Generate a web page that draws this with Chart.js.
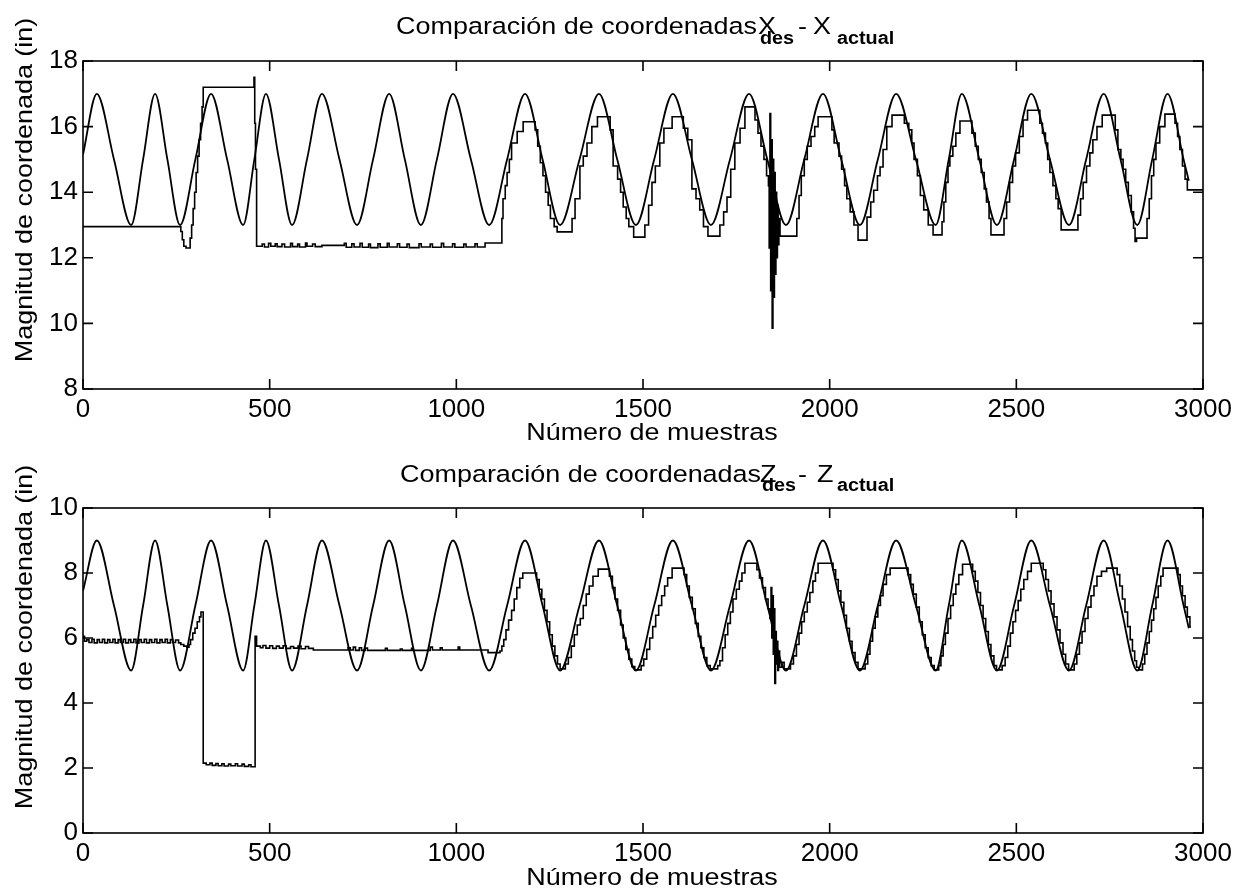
<!DOCTYPE html>
<html>
<head>
<meta charset="utf-8">
<script src="https://cdn.jsdelivr.net/npm/chart.js@4.4.0/dist/chart.umd.min.js"></script>
<style>
  body { margin: 0; background: #fff; }
  .panel { position: absolute; left: 0; width: 1238px; height: 444px; }
</style>
</head>
<body>
<div class="panel" style="top:0"><canvas id="chartX" width="1238" height="444"></canvas></div>
<div class="panel" style="top:444px"><canvas id="chartZ" width="1238" height="444"></canvas></div>
<script>
// Ejes
const ticksMuestras = [0, 500, 1000, 1500, 2000, 2500, 3000];
const ticksX = [8, 10, 12, 14, 16, 18];
const ticksZ = [0, 2, 4, 6, 8, 10];

// Trayectoria deseada: muestras de picos, cruces y valles
const muestrasDes = [0, 37, 83, 129, 161, 193, 226, 260, 301, 343, 386, 429, 459, 490, 525, 560, 600, 640, 687, 734,
  777, 820, 862, 905, 948, 991, 1039, 1088, 1136, 1184, 1231, 1278, 1330, 1382, 1431, 1481, 1530, 1580, 1631, 1682,
  1733, 1784, 1833, 1883, 1932, 1982, 2031, 2081, 2129, 2178, 2231, 2284, 2319, 2354, 2401, 2448, 2494, 2540, 2590,
  2641, 2687, 2734, 2779, 2824, 2864, 2905, 2948, 2962];
const xDes = [15.15,
  17, 15, 13, 15, 17, 15, 13, 15, 17, 15, 13, 15, 17, 15, 13, 15,
  17, 15, 13, 15, 17, 15, 13, 15, 17, 15, 13, 15, 17, 15, 13, 15,
  17, 15, 13, 15, 17, 15, 13, 15, 17, 15, 13, 15, 17, 15, 13, 15,
  17, 15, 13, 15, 17, 15, 13, 15, 17, 15, 13, 15, 17, 15, 13, 15,
  17, 15, 14.35];
const zDes = [7.45,
  9, 7, 5, 7, 9, 7, 5, 7, 9, 7, 5, 7, 9, 7, 5, 7,
  9, 7, 5, 7, 9, 7, 5, 7, 9, 7, 5, 7, 9, 7, 5, 7,
  9, 7, 5, 7, 9, 7, 5, 7, 9, 7, 5, 7, 9, 7, 5, 7,
  9, 7, 5, 7, 9, 7, 5, 7, 9, 7, 5, 7, 9, 7, 5, 7,
  9, 7, 6.3];

// Posición real medida [muestra, valor] (escalonada)
const xActual = [
  [0, 12.95], [262, 12.8], [266, 12.55], [270, 12.35], [276, 12.3], [287, 12.6], [291, 13.0], [295, 13.5], [299, 14.0],
  [303, 14.6], [307, 15.1], [311, 15.6], [315, 16.1], [319, 16.6], [322, 17.2], [458, 17.5], [460, 16.1], [462, 14.7],
  [465, 12.35], [480, 12.42], [486, 12.33], [497, 12.44], [503, 12.35], [515, 12.43], [520, 12.34], [533, 12.42],
  [540, 12.33], [556, 12.44], [561, 12.34], [575, 12.42], [580, 12.33], [596, 12.45], [600, 12.35], [615, 12.42],
  [622, 12.34], [640, 12.38], [700, 12.44], [705, 12.32], [720, 12.43], [726, 12.33], [742, 12.44], [748, 12.32],
  [765, 12.42], [770, 12.31], [790, 12.43], [796, 12.32], [815, 12.44], [820, 12.33], [842, 12.43], [848, 12.32],
  [868, 12.42], [874, 12.31], [900, 12.43], [906, 12.33], [930, 12.42], [936, 12.32], [960, 12.44], [966, 12.33],
  [990, 12.43], [996, 12.32], [1020, 12.42], [1026, 12.33], [1050, 12.43], [1056, 12.33], [1077, 12.45],
  [1122, 13.2], [1125, 13.8], [1131, 14.2], [1136, 14.6], [1142, 15.0], [1148, 15.5], [1163, 15.85], [1179, 16.15],
  [1211, 15.9], [1218, 15.4], [1225, 14.9], [1232, 14.5], [1239, 14.0], [1246, 13.6], [1252, 13.2], [1262, 12.95], [1270, 12.79],
  [1310, 13.2], [1318, 13.8], [1331, 14.8], [1340, 15.1], [1350, 15.5], [1363, 16.0], [1378, 16.3],
  [1412, 15.9], [1420, 14.8], [1432, 14.4], [1440, 14.0], [1447, 13.55], [1455, 13.2], [1462, 12.95], [1475, 12.63],
  [1505, 13.0], [1515, 13.6], [1524, 14.3], [1533, 14.8], [1545, 15.5], [1556, 15.95], [1578, 16.3],
  [1608, 15.95], [1620, 15.6], [1631, 14.1], [1642, 13.8], [1652, 13.46], [1662, 12.95], [1674, 12.66],
  [1706, 13.0], [1716, 13.4], [1725, 13.85], [1735, 14.7], [1746, 15.5], [1760, 15.95], [1773, 16.6],
  [1800, 16.2], [1808, 15.8], [1816, 15.4], [1824, 15.0], [1831, 14.5], [1836, 14.2], [1838, 12.3], [1840, 16.4],
  [1842, 11.0], [1844, 15.6], [1846, 9.85], [1848, 15.0], [1850, 10.8], [1852, 14.6], [1854, 11.5], [1856, 14.0],
  [1858, 12.0], [1860, 13.6], [1862, 12.4], [1864, 13.2], [1867, 12.66],
  [1912, 13.2], [1918, 13.9], [1924, 14.5], [1932, 15.0], [1940, 15.4], [1950, 15.7], [1960, 16.0], [1969, 16.3],
  [2006, 15.9], [2012, 15.5], [2025, 15.1], [2032, 14.7], [2040, 14.2], [2046, 13.8], [2055, 13.4], [2065, 13.0], [2076, 12.54],
  [2100, 13.24], [2110, 13.7], [2118, 14.06], [2128, 14.5], [2135, 14.77], [2143, 15.3], [2153, 16.0], [2167, 16.35],
  [2200, 16.1], [2212, 15.9], [2220, 15.5], [2226, 15.0], [2235, 14.5], [2243, 13.9], [2252, 13.46], [2264, 13.0], [2277, 12.7],
  [2301, 13.1], [2306, 13.7], [2311, 14.3], [2317, 14.8], [2322, 15.1], [2330, 15.4], [2338, 15.8], [2349, 16.17],
  [2381, 15.8], [2390, 15.4], [2398, 15.0], [2406, 14.6], [2414, 14.1], [2420, 13.7], [2427, 13.2], [2432, 12.7],
  [2467, 13.2], [2474, 13.7], [2482, 14.3], [2490, 14.8], [2498, 15.2], [2508, 15.7], [2518, 16.2], [2530, 16.5],
  [2563, 16.1], [2570, 15.8], [2578, 15.5], [2584, 15.0], [2590, 14.6], [2598, 14.2], [2606, 13.8], [2612, 13.5], [2620, 12.85],
  [2665, 13.3], [2672, 13.8], [2679, 14.3], [2688, 14.8], [2697, 15.2], [2705, 15.6], [2716, 16.0], [2730, 16.35],
  [2765, 15.9], [2772, 15.3], [2780, 15.0], [2786, 14.7], [2793, 14.3], [2800, 13.9], [2808, 13.4], [2814, 12.9],
  [2818, 12.5], [2822, 12.6],
  [2850, 13.2], [2856, 13.8], [2862, 14.5], [2868, 15.0], [2874, 15.5], [2884, 16.0], [2898, 16.38],
  [2925, 16.1], [2932, 15.7], [2938, 15.3], [2945, 14.8], [2952, 14.4], [2958, 14.07], [3000, 14.07]
];

const zActual = [
  [0, 6.05], [4, 5.9], [10, 5.95], [16, 5.86], [24, 5.96], [30, 5.85], [38, 5.95], [44, 5.86], [52, 5.96], [58, 5.85],
  [66, 5.95], [72, 5.86], [80, 5.96], [86, 5.85], [94, 5.95], [100, 5.86], [108, 5.96], [114, 5.85], [122, 5.95],
  [128, 5.86], [136, 5.96], [142, 5.85], [150, 5.95], [156, 5.86], [164, 5.96], [170, 5.85], [178, 5.95], [184, 5.86],
  [192, 5.96], [198, 5.85], [206, 5.95], [212, 5.86], [220, 5.96], [226, 5.85], [234, 5.95], [240, 5.86], [248, 5.94],
  [256, 5.85], [262, 5.8], [270, 5.75], [278, 5.72],
  [284, 5.8], [288, 5.95], [294, 6.15], [300, 6.3], [306, 6.5], [312, 6.65], [316, 6.8], [322, 2.15],
  [330, 2.1], [340, 2.15], [346, 2.08], [356, 2.14], [362, 2.07], [372, 2.13], [378, 2.06], [390, 2.12], [396, 2.07],
  [408, 2.13], [414, 2.06], [426, 2.12], [432, 2.05], [444, 2.1], [450, 2.04], [461, 6.05], [465, 5.75],
  [475, 5.7], [482, 5.77], [490, 5.69], [500, 5.76], [508, 5.68], [518, 5.75], [526, 5.69], [536, 5.76], [544, 5.68],
  [556, 5.74], [564, 5.69], [576, 5.75], [584, 5.67], [596, 5.74], [604, 5.68], [617, 5.63],
  [710, 5.7], [716, 5.63], [724, 5.72], [730, 5.62], [740, 5.7], [746, 5.62], [756, 5.69], [762, 5.62], [810, 5.68],
  [815, 5.62], [850, 5.66], [855, 5.62], [880, 5.68], [884, 5.62], [930, 5.72], [936, 5.63], [957, 5.7], [962, 5.63],
  [1005, 5.72], [1009, 5.63], [1085, 5.55],
  [1117, 5.6], [1122, 5.75], [1127, 5.95], [1133, 6.25], [1140, 6.55], [1148, 6.85], [1155, 7.2], [1162, 7.55], [1170, 7.84], [1178, 8.0],
  [1215, 7.8], [1222, 7.5], [1229, 7.2], [1236, 6.85], [1243, 6.5], [1250, 6.1], [1257, 5.75], [1264, 5.45], [1271, 5.2], [1278, 5.05],
  [1292, 5.2], [1300, 5.4], [1308, 5.75], [1316, 6.1], [1324, 6.4], [1332, 6.6], [1340, 7.0], [1348, 7.35], [1356, 7.6], [1366, 7.9], [1380, 8.12],
  [1410, 7.9], [1418, 7.55], [1425, 7.2], [1432, 6.85], [1440, 6.4], [1447, 6.0], [1454, 5.65], [1462, 5.35], [1470, 5.12], [1478, 5.02],
  [1495, 5.15], [1502, 5.35], [1510, 5.65], [1518, 6.0], [1526, 6.35], [1534, 6.7], [1542, 7.0], [1550, 7.3], [1558, 7.6], [1566, 7.85], [1578, 8.15],
  [1610, 7.95], [1617, 7.6], [1624, 7.25], [1632, 6.9], [1640, 6.45], [1648, 6.05], [1655, 5.7], [1663, 5.4], [1671, 5.15], [1680, 5.05],
  [1700, 5.15], [1706, 5.3], [1713, 5.7], [1720, 6.1], [1727, 6.45], [1734, 6.8], [1741, 7.2], [1750, 7.5], [1758, 7.75], [1765, 8.0], [1773, 8.3],
  [1805, 8.1], [1812, 7.85], [1820, 7.55], [1828, 7.2], [1835, 6.9], [1840, 6.6], [1843, 7.55], [1845, 6.0], [1847, 7.3],
  [1849, 5.5], [1851, 6.9], [1853, 4.6], [1855, 6.2], [1857, 5.2], [1859, 5.9], [1861, 5.0], [1863, 5.6], [1866, 5.1],
  [1872, 5.25], [1878, 5.05],
  [1895, 5.2], [1903, 5.45], [1911, 5.8], [1918, 6.15], [1925, 6.5], [1932, 6.8], [1940, 7.1], [1947, 7.4], [1955, 7.75], [1962, 8.0], [1969, 8.3],
  [2009, 8.1], [2016, 7.8], [2023, 7.45], [2030, 7.1], [2038, 6.7], [2045, 6.3], [2053, 5.9], [2060, 5.55], [2068, 5.25], [2076, 5.05],
  [2095, 5.2], [2102, 5.5], [2108, 5.9], [2115, 6.3], [2122, 6.65], [2129, 7.0], [2136, 7.3], [2143, 7.65], [2152, 7.95], [2162, 8.15],
  [2210, 7.95], [2217, 7.65], [2224, 7.35], [2232, 6.95], [2240, 6.5], [2248, 6.1], [2256, 5.7], [2264, 5.4], [2272, 5.15], [2280, 5.02],
  [2292, 5.15], [2298, 5.45], [2304, 5.8], [2310, 6.15], [2317, 6.6], [2324, 7.0], [2331, 7.35], [2338, 7.65], [2346, 7.95], [2356, 8.27],
  [2383, 8.05], [2390, 7.75], [2397, 7.4], [2404, 7.0], [2411, 6.6], [2418, 6.2], [2425, 5.8], [2432, 5.45], [2440, 5.15], [2447, 5.02],
  [2462, 5.15], [2470, 5.4], [2477, 5.75], [2484, 6.15], [2491, 6.5], [2498, 6.85], [2505, 7.15], [2512, 7.5], [2520, 7.8], [2530, 8.05], [2540, 8.3],
  [2572, 8.1], [2579, 7.8], [2586, 7.45], [2593, 7.05], [2601, 6.65], [2609, 6.25], [2617, 5.85], [2625, 5.5], [2632, 5.2], [2640, 5.02],
  [2655, 5.2], [2662, 5.5], [2669, 5.85], [2676, 6.2], [2684, 6.6], [2692, 6.95], [2700, 7.3], [2708, 7.6], [2716, 7.9], [2728, 8.05], [2742, 8.15],
  [2770, 7.95], [2777, 7.6], [2784, 7.2], [2791, 6.8], [2798, 6.35], [2805, 5.95], [2811, 5.6], [2817, 5.3], [2822, 5.1], [2828, 5.02],
  [2838, 5.2], [2844, 5.5], [2850, 5.85], [2856, 6.2], [2862, 6.55], [2868, 6.9], [2874, 7.25], [2880, 7.6], [2887, 7.9], [2893, 8.15],
  [2933, 7.95], [2939, 7.6], [2945, 7.3], [2952, 6.95], [2958, 6.65], [2965, 6.34], [2968, 6.34]
];

const FONT = '"Liberation Sans", Arial, Helvetica, sans-serif';

// Texto con el ancho algo estirado como en la figura escaneada
function texto(ctx, str, x, y, size, opts = {}) {
  ctx.save();
  ctx.translate(x, y);
  if (opts.rot) ctx.rotate(opts.rot);
  ctx.scale(1.1, 1);
  ctx.font = (opts.bold ? "bold " : "") + size + "px " + FONT;
  ctx.textAlign = opts.align || "left";
  ctx.textBaseline = "alphabetic";
  ctx.fillStyle = "#000";
  ctx.fillText(str, 0, 0);
  ctx.restore();
}

// Marco estilo MATLAB: caja, marcas hacia adentro y textos
const marcoMatlab = {
  id: "marcoMatlab",
  afterDraw(chart, args, o) {
    const { ctx, chartArea: a } = chart;
    const sx = chart.scales.x;
    const sy = chart.scales.y;
    ctx.save();
    ctx.strokeStyle = "#000";
    ctx.lineWidth = 1.6;
    ctx.strokeRect(a.left, a.top, a.right - a.left, a.bottom - a.top);
    ctx.beginPath();
    sx.ticks.forEach((t) => {
      const px = sx.getPixelForValue(t.value);
      ctx.moveTo(px, a.bottom); ctx.lineTo(px, a.bottom - 10);
      ctx.moveTo(px, a.top); ctx.lineTo(px, a.top + 10);
    });
    sy.ticks.forEach((t) => {
      const py = sy.getPixelForValue(t.value);
      ctx.moveTo(a.left, py); ctx.lineTo(a.left + 10, py);
      ctx.moveTo(a.right, py); ctx.lineTo(a.right - 10, py);
    });
    ctx.stroke();
    ctx.restore();

    texto(ctx, "Comparación de coordenadas", o.tituloX, o.tituloY, 24.5);
    texto(ctx, o.letra, o.letra1X, o.tituloY, 24.5);
    texto(ctx, "des", o.letra1X + 2, o.tituloY + o.subDy, 18, { bold: true });
    texto(ctx, "-", 798, o.tituloY, 24.5);
    texto(ctx, o.letra, o.letra2X, o.tituloY, 24.5);
    texto(ctx, "actual", 837, o.tituloY + o.subDy, 18, { bold: true });
    texto(ctx, "Número de muestras", 652, o.xLabelY, 24.5, { align: "center" });
    texto(ctx, "Magnitud de coordenada (in)", 32, o.yLabelY, 24.5, { align: "center", rot: -Math.PI / 2 });
  },
};

function crearGrafico(id, des, actual, ticksY, marco, padTop) {
  return new Chart(document.getElementById(id), {
    type: "line",
    data: {
      datasets: [
        {
          data: muestrasDes.map((m, i) => ({ x: m, y: des[i] })),
          borderColor: "#000",
          borderWidth: 1.8,
          pointRadius: 0,
          cubicInterpolationMode: "monotone",
          fill: false,
        },
        {
          data: actual.map(([m, v]) => ({ x: m, y: v })),
          borderColor: "#000",
          borderWidth: 1.6,
          pointRadius: 0,
          stepped: true,
          fill: false,
        },
      ],
    },
    options: {
      responsive: false,
      animation: false,
      devicePixelRatio: 1,
      events: [],
      layout: { padding: { top: padTop, right: 35, bottom: 15, left: 0 } },
      plugins: {
        legend: { display: false },
        tooltip: { enabled: false },
        marcoMatlab: marco,
      },
      scales: {
        x: {
          type: "linear",
          min: 0,
          max: 3000,
          afterBuildTicks: (s) => { s.ticks = ticksMuestras.map((v) => ({ value: v })); },
          afterFit: (s) => { s.height = 40; },
          grid: { display: false, drawTicks: false },
          border: { display: false },
          ticks: {
            color: "#000", padding: 5, maxRotation: 0, autoSkip: false,
            font: { family: FONT, size: 26 },
            callback: (v) => String(v),
          },
        },
        y: {
          min: ticksY[0],
          max: ticksY[ticksY.length - 1],
          afterBuildTicks: (s) => { s.ticks = ticksY.map((v) => ({ value: v })); },
          afterFit: (s) => { s.width = 83; },
          grid: { display: false, drawTicks: false },
          border: { display: false },
          ticks: {
            color: "#000", padding: 5, autoSkip: false,
            font: { family: FONT, size: 26 },
            callback: (v) => String(v),
          },
        },
      },
    },
    plugins: [marcoMatlab],
  });
}

crearGrafico("chartX", xDes, xActual, ticksX,
  { letra: "X", tituloX: 396, letra1X: 758, letra2X: 813, tituloY: 34, subDy: 10, xLabelY: 440, yLabelY: 190 }, 61);
crearGrafico("chartZ", zDes, zActual, ticksZ,
  { letra: "Z", tituloX: 400, letra1X: 760, letra2X: 817, tituloY: 38, subDy: 9, xLabelY: 441, yLabelY: 193 }, 64);
</script>
</body>
</html>
